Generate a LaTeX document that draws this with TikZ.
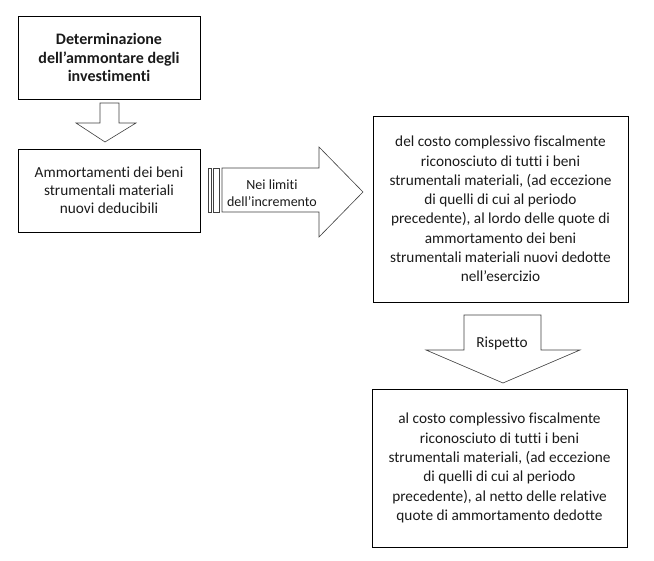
\documentclass[tikz,border=0pt]{standalone}
\usepackage{fontspec}
\setmainfont{Carlito}[Ligatures=NoCommon]
\usetikzlibrary{calc}
\definecolor{txtdark}{HTML}{1A1A1A}

\begin{document}
\begin{tikzpicture}[x=1pt, y=-1pt,
  every node/.style={font=\fontsize{15.3}{19.3}\selectfont, text=txtdark},
  box/.style={rectangle, draw=black, line width=0.8pt, align=center, inner sep=2pt},
  blockarrow/.style={draw=black!75, line width=0.6pt, fill=white},
]
\useasboundingbox (0,0) rectangle (654,561);

% Boxes
\node[box, minimum width=182pt, minimum height=83pt, font=\bfseries\fontsize{16}{18.5}\selectfont] (det) at (109,57.5) {Determinazione\\dell’ammontare degli\\investimenti};
\node[box, minimum width=182pt, minimum height=83pt, font=\fontsize{15.3}{18}\selectfont] (amm) at (109,190.5) {Ammortamenti dei beni\\strumentali materiali\\nuovi deducibili};
\node[box, minimum width=255pt, minimum height=186pt] (lordo) at (500.5,209) {del costo complessivo fiscalmente\\riconosciuto di tutti i beni\\strumentali materiali, (ad eccezione\\di quelli di cui al periodo\\precedente), al lordo delle quote di\\ammortamento dei beni\\strumentali materiali nuovi dedotte\\nell’esercizio};
\node[box, minimum width=255pt, minimum height=158pt] (netto) at (499.5,468) {al costo complessivo fiscalmente\\riconosciuto di tutti i beni\\strumentali materiali, (ad eccezione\\di quelli di cui al periodo\\precedente), al netto delle relative\\quote di ammortamento dedotte};

% Block arrows
\draw[blockarrow] (100,103) -- (119,103) -- (119,123) -- (136,123) -- (105,142) -- (76,123) -- (100,123) -- cycle;
\draw[blockarrow] (208,168) rectangle (211,212);
\draw[blockarrow] (213,168) rectangle (219,212);
\draw[blockarrow] (222,168) -- (319,168) -- (319,147) -- (363,192) -- (319,237) -- (319,212) -- (222,212) -- cycle;
\draw[blockarrow] (464,315) -- (541,315) -- (541,350) -- (580,350) -- (503,383) -- (426,350) -- (464,350) -- cycle;

% Arrow labels
\node[align=center, font=\fontsize{14}{17}\selectfont] (incr) at (272,193) {Nei limiti\\dell’incremento};
\node (risp) at (502,343) {Rispetto};

\end{tikzpicture}
\end{document}
